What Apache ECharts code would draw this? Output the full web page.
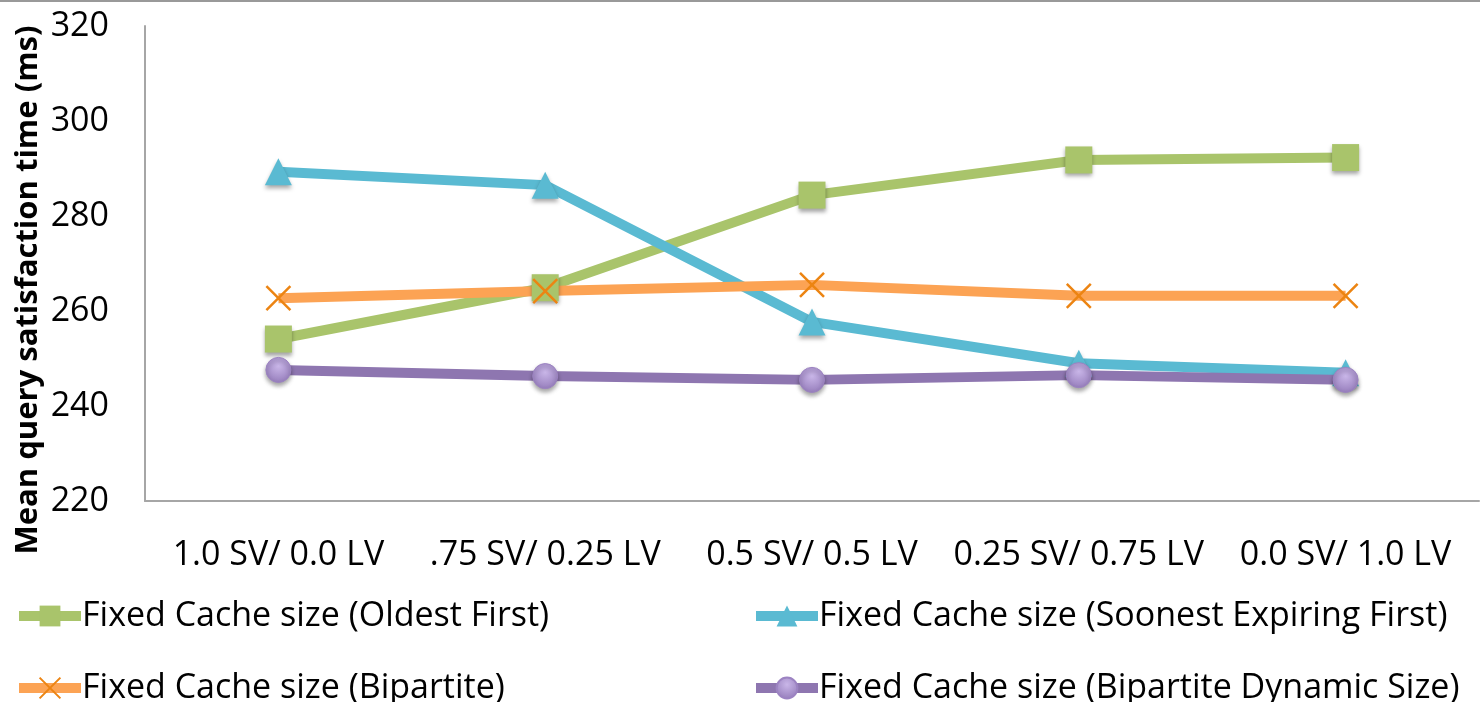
<!DOCTYPE html>
<html><head><meta charset="utf-8">
<script src="https://cdn.jsdelivr.net/npm/echarts@6/dist/echarts.min.js"></script>
<style>html,body{margin:0;padding:0;background:#fff}#c{width:1480px;height:702px}</style>
</head><body><div id="c"></div>
<script>
const categories = ['1.0 SV/ 0.0 LV', '.75 SV/ 0.25 LV', '0.5 SV/ 0.5 LV', '0.25 SV/ 0.75 LV', '0.0 SV/ 1.0 LV'];
const oldestFirst = [254.1, 264.9, 284.4, 291.8, 292.3];
const soonestExpiring = [289.3, 286.5, 257.7, 249.0, 247.0];
const bipartite = [262.7, 264.2, 265.5, 263.2, 263.2];
const bipartiteDynamic = [247.6, 246.3, 245.5, 246.5, 245.5];
const seriesNames = ['Fixed Cache size (Oldest First)', 'Fixed Cache size (Soonest Expiring First)', 'Fixed Cache size (Bipartite)', 'Fixed Cache size (Bipartite Dynamic Size)'];
const yTitle = 'Mean query satisfaction time (ms)';

const FONT = '"Open Sans", Lato, sans-serif';
const FS = 34;
const shadow = {shadowBlur: 4, shadowColor: 'rgba(0,0,0,0.35)', shadowOffsetY: 3};
function leg(name, left, top) {
  return {data: [name], left: left, top: top, itemWidth: 62, itemHeight: 26,
    lineStyle: {width: 10},
    textStyle: {fontFamily: FONT, fontSize: FS, lineHeight: 38, color: '#000', padding: [0,0,0,-4]}};
}
const chart = echarts.init(document.getElementById('c'));
chart.setOption({
  animation: false,
  backgroundColor: '#fff',
  graphic: [
    {type: 'rect', shape: {x: 0, y: 0, width: 1480, height: 2}, style: {fill: '#999'}},
    {type: 'text', x: 28, y: 290, rotation: Math.PI / 2,
     style: {text: yTitle, fontFamily: FONT, fontSize: 31, fontWeight: 'bold', fill: '#000', align: 'center', verticalAlign: 'middle'}}
  ],
  grid: {left: 145, top: 26, width: 1334, height: 475, containLabel: false, outerBoundsMode: 'none'},
  legend: [
    leg(seriesNames[0], 9, 592),
    leg(seriesNames[2], 9, 664),
    leg(seriesNames[1], 746, 592),
    leg(seriesNames[3], 746, 664)
  ],
  xAxis: {type: 'category', data: categories, boundaryGap: true,
    axisLine: {lineStyle: {color: '#A6A6A6', width: 2}}, axisTick: {show: false},
    axisLabel: {fontFamily: FONT, fontSize: FS, color: '#000', margin: 37, interval: 0}},
  yAxis: {type: 'value', min: 220, max: 320, interval: 20,
    axisLine: {show: true, lineStyle: {color: '#A6A6A6', width: 2}}, axisTick: {show: false}, splitLine: {show: false},
    axisLabel: {fontFamily: FONT, fontSize: FS, color: '#000', margin: 36}},
  series: [
    {name: seriesNames[0], type: 'line', data: oldestFirst, symbol: 'rect', symbolSize: 27,
     lineStyle: {color: '#A9C46B', width: 10}, itemStyle: Object.assign({color: '#A9C46B'}, shadow)},
    {name: seriesNames[1], type: 'line', data: soonestExpiring, symbol: 'triangle', symbolSize: 27,
     lineStyle: {color: '#5ABAD2', width: 10}, itemStyle: Object.assign({color: '#5ABAD2'}, shadow)},
    {name: seriesNames[2], type: 'line', data: bipartite, symbol: 'path://M0,0 L10,10 M10,0 L0,10', symbolSize: 24,
     lineStyle: {color: '#FCA354', width: 10}, itemStyle: {color: 'rgba(0,0,0,0)', borderColor: '#EC8412', borderWidth: 2.5}},
    {name: seriesNames[3], type: 'line', data: bipartiteDynamic, symbol: 'circle', symbolSize: 25,
     lineStyle: {color: '#8E76B0', width: 10},
     itemStyle: Object.assign({color: new echarts.graphic.RadialGradient(0.5, 0.35, 0.7, [{offset: 0, color: '#C9B6E8'}, {offset: 1, color: '#9279B8'}]), borderColor: '#9C83C2', borderWidth: 1}, shadow)}
  ]
});
</script></body></html>
